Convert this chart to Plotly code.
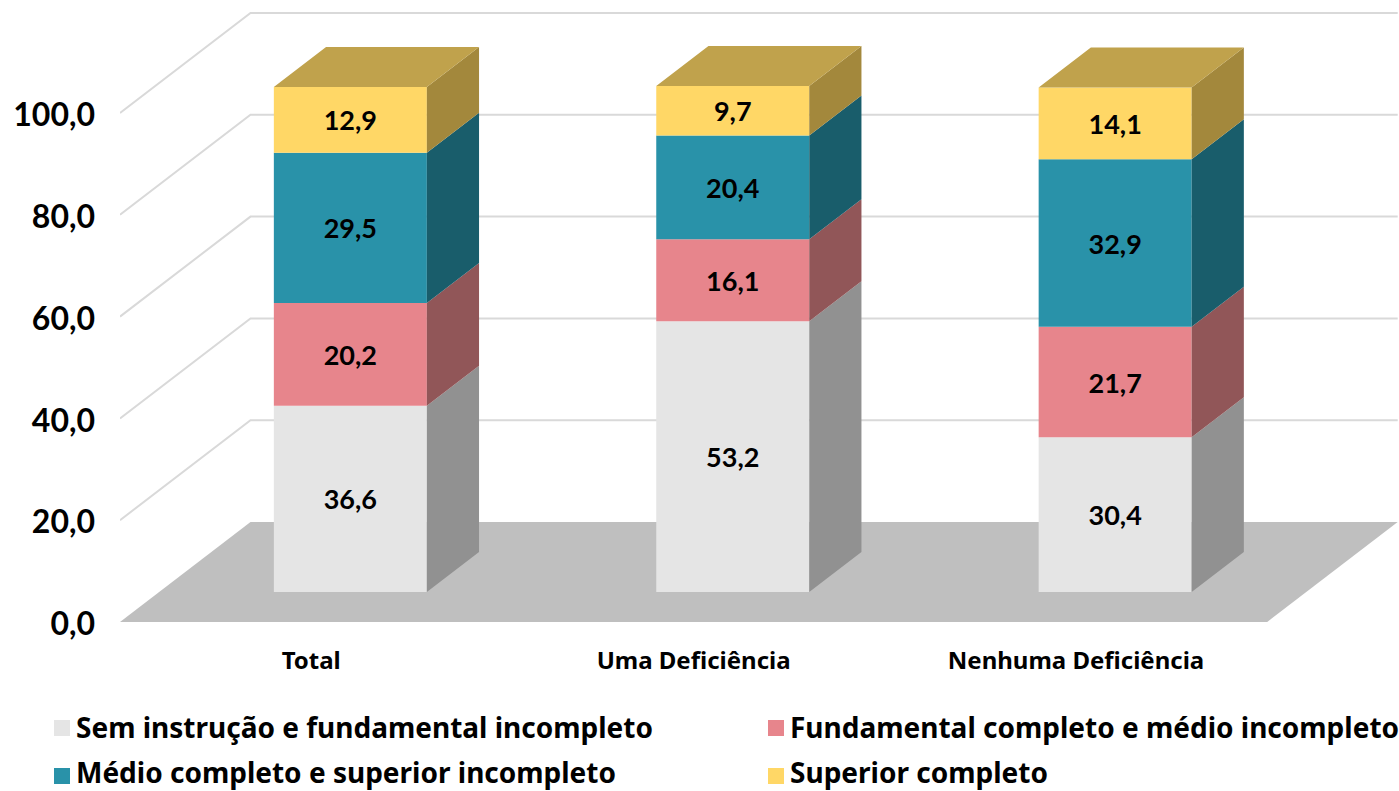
import numpy as np
import plotly.graph_objects as go

categories = ["Total", "Uma Deficiência", "Nenhuma Deficiência"]
series_names = ["Sem instrução e fundamental incompleto",
                "Fundamental completo e médio incompleto",
                "Médio completo e superior incompleto",
                "Superior completo"]
sem_instrucao = [36.6, 53.2, 30.4]
fundamental = [20.2, 16.1, 21.7]
medio = [29.5, 20.4, 32.9]
superior = [12.9, 9.7, 14.1]
y_ticks = [0, 20, 40, 60, 80, 100]

front_colors = ["#e5e5e5", "#e7858c", "#2992a9", "#ffd766"]
side_colors = ["#919191", "#915658", "#195d6b", "#a3883c"]
top_color = "#c0a24c"
floor_color = "#bfbfbf"
grid_color = "#d9d9d9"

W, H = 1399, 791
L, B = 120, 169                 # plot area: x 120..1399, y 0..622
px_per_cat = 382.4
px_per_val = 5.09
x_range = [-0.5, -0.5 + (W - L) / px_per_cat]
y_range = [0, (H - B) / px_per_val]

# oblique depth vector, in axis units
depth_x = 130.5 / px_per_cat
depth_y = 100 / px_per_val
d_front, d_back = 0.3, 0.7
bar_width = 153 / px_per_cat

fig = go.Figure()
x_pos = np.arange(len(categories))
bar_c = x_pos + d_front * depth_x
lift = d_front * depth_y
series = [np.array(s) for s in (sem_instrucao, fundamental, medio, superior)]
cum = np.zeros(len(categories))
tops = None
sides = []
for name, vals, fc, sc in zip(series_names, series, front_colors, side_colors):
    base = cum + lift
    fig.add_trace(go.Bar(
        x=bar_c, y=vals, base=base, width=bar_width, name=name,
        marker=dict(color=fc, line=dict(width=0)),
        texttemplate="%{y:.1f}", textposition="inside", insidetextanchor="middle",
        textangle=0, constraintext="none",
        textfont=dict(family="Lato", size=27, color="black", weight="bold"),
        showlegend=False))
    # right faces
    xs, ys = [], []
    ddx = (d_back - d_front) * depth_x
    ddy = (d_back - d_front) * depth_y
    for c, b, v in zip(bar_c, base, vals):
        r = c + bar_width / 2
        xs += [r, r + ddx, r + ddx, r, r, None]
        ys += [b, b + ddy, b + v + ddy, b + v, b, None]
    sides.append((xs, ys, sc))
    cum = cum + vals
    tops = base + vals

for xs, ys, sc in sides:
    fig.add_trace(go.Scatter(x=xs, y=ys, mode="lines", line=dict(width=0, color=sc),
                             fill="toself", fillcolor=sc, hoverinfo="skip", showlegend=False))
xs, ys = [], []
for c, t in zip(bar_c, tops):
    l, r = c - bar_width / 2, c + bar_width / 2
    xs += [l, r, r + ddx, l + ddx, l, None]
    ys += [t, t, t + ddy, t + ddy, t, None]
fig.add_trace(go.Scatter(x=xs, y=ys, mode="lines", line=dict(width=0, color=top_color),
                         fill="toself", fillcolor=top_color, hoverinfo="skip", showlegend=False))

# floor and walls
x0, x1 = -0.5, len(categories) - 0.5
shapes = [dict(type="path", xref="x", yref="y", layer="below", line=dict(width=0), fillcolor=floor_color,
               path=f"M{x0},0 L{x0+depth_x},{depth_y} L{x1+depth_x},{depth_y} L{x1},0 Z")]
for v in y_ticks[1:]:
    shapes.append(dict(type="path", xref="x", yref="y", layer="below",
                       line=dict(width=2, color=grid_color),
                       path=f"M{x0},{v} L{x0+depth_x},{v+depth_y} L{x1+depth_x},{v+depth_y}"))

# legend laid out as in the original (swatch hugging the text)
pw, ph = W - L, H - B
def pfx(px): return (px - L) / pw
def pfy(py): return (H - B - py) / ph
legend_pos = [(54, 728, 727), (768, 728, 727), (54, 776, 772), (768, 776, 772)]
annotations = []
for (lx, ly, ty), name, col in zip(legend_pos, series_names, front_colors):
    shapes.append(dict(type="rect", xref="paper", yref="paper", line=dict(width=0), fillcolor=col,
                       x0=pfx(lx), x1=pfx(lx + 16), y0=pfy(ly + 8), y1=pfy(ly - 8)))
    annotations.append(dict(xref="paper", yref="paper", x=pfx(lx + 20), y=pfy(ty), text=name,
                            showarrow=False, xanchor="left", yanchor="middle",
                            font=dict(family="Noto Sans", size=28, color="black", weight="bold")))

fig.update_layout(
    width=W, height=H, margin=dict(l=L, r=0, t=0, b=B, pad=0), autosize=False,
    paper_bgcolor="white", plot_bgcolor="white", barmode="overlay", separators=",.",
    showlegend=False, shapes=shapes, annotations=annotations,
    xaxis=dict(range=x_range, tickmode="array", tickvals=list(x_pos), ticktext=categories,
               showgrid=False, zeroline=False, showline=False, ticks="", ticklabelstandoff=22,
               tickfont=dict(family="Noto Sans", size=24, color="black", weight="bold")),
    yaxis=dict(range=y_range, tickmode="array", tickvals=y_ticks, tickformat=".1f",
               showgrid=False, zeroline=False, showline=False, ticks="", ticklabelstandoff=24,
               ticklabelshift=2,
               tickfont=dict(family="Lato", size=32, color="black", weight="bold")),
)
fig.write_html("out.html", config={"displayModeBar": False},
               post_script="document.body.style.margin='0';document.documentElement.style.margin='0';")
